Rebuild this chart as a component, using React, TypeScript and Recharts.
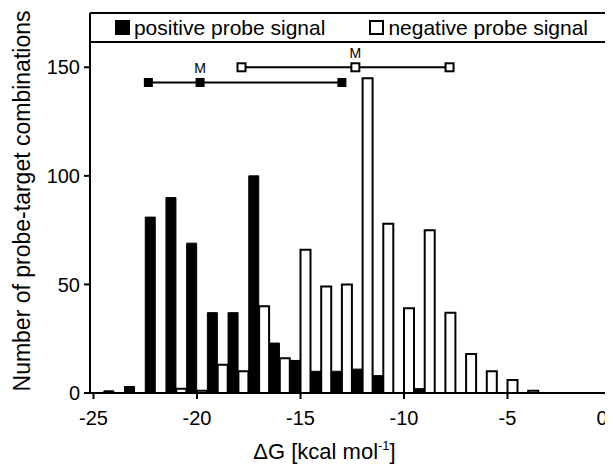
import React from 'react';
import { ComposedChart, Bar, XAxis, YAxis, Scatter, Legend, LabelList } from 'recharts';

const FONT = '"Liberation Sans", Arial, Helvetica, sans-serif';

// Histogram bins (kcal/mol), each bin centred on an integer value
const binCenters = [-24, -23, -22, -21, -20, -19, -18, -17, -16, -15, -14, -13, -12, -11, -10, -9, -8, -7, -6, -5, -4];
const positiveCounts = [1, 3, 81, 90, 69, 37, 37, 100, 23, 15, 10, 10, 11, 8, 0, 2, 0, 0, 0, 0, 0];
const negativeCounts = [0, 0, 0, 2, 1, 13, 10, 40, 16, 66, 49, 50, 145, 78, 39, 75, 37, 18, 10, 6, 1];

// Range markers (lower, median, upper) shown above the histogram
const positiveRangeX = [-22.35, -19.85, -13.0];
const positiveRangeY = 143;
const negativeRangeX = [-17.85, -12.35, -7.8];
const negativeRangeY = 150;
const rangeLabels = ['', 'M', ''];

const seriesNames = ['positive probe signal', 'negative probe signal'];
const xTicks = [-25, -20, -15, -10, -5, 0];
const yTicks = [0, 50, 100, 150];
const xDomain = [-25, 0];
const yDomain = [0, 175];

// Half-unit bands: filled bar in [n-0.5, n], open bar in [n, n+0.5]
const bandData = Array.from({ length: 50 }, (_, k) => {
  const start = xDomain[0] + k * 0.5;
  const posIdx = binCenters.indexOf(start + 0.5);
  const negIdx = binCenters.indexOf(start);
  const pos = posIdx >= 0 && positiveCounts[posIdx] > 0 ? positiveCounts[posIdx] : null;
  const neg = negIdx >= 0 && negativeCounts[negIdx] > 0 ? negativeCounts[negIdx] : null;
  return { band: start.toFixed(1), positive: pos, negative: neg };
});

const positiveRange = positiveRangeX.map((x, i) => ({ x, y: positiveRangeY, label: rangeLabels[i] }));
const negativeRange = negativeRangeX.map((x, i) => ({ x, y: negativeRangeY, label: rangeLabels[i] }));

const FilledSquare = (props: any) => {
  const { cx, cy } = props;
  return <rect x={cx - 4.5} y={cy - 4.5} width={9} height={9} fill="#000" />;
};
const OpenSquare = (props: any) => {
  const { cx, cy } = props;
  return <rect x={cx - 4} y={cy - 4} width={8} height={8} fill="#fff" stroke="#000" strokeWidth={2} />;
};

const renderLegend = (props: any) => {
  const entries = (props.payload || [])
    .filter((e: any) => e.type !== 'none' && seriesNames.includes(e.value))
    .sort((a: any, b: any) => seriesNames.indexOf(a.value) - seriesNames.indexOf(b.value));
  return (
    <div
      style={{
        boxSizing: 'border-box',
        height: 31,
        borderTop: '2px solid #000',
        borderBottom: '2px solid #000',
        display: 'flex',
        justifyContent: 'center',
        alignItems: 'center',
        gap: 44,
        fontFamily: FONT,
        fontSize: 21,
        color: '#000',
        whiteSpace: 'nowrap',
      }}
    >
      {entries.map((e: any) => (
        <div key={e.value} style={{ display: 'flex', alignItems: 'center' }}>
          <span
            style={{
              display: 'inline-block',
              boxSizing: 'border-box',
              width: 15,
              height: 15,
              background: e.color,
              border: '2px solid #000',
              marginRight: 4,
            }}
          />
          <span>{e.value}</span>
        </div>
      ))}
    </div>
  );
};

const XTick = (props: any) => {
  const { x, y, payload } = props;
  const lx = Math.min(x, 602);
  return (
    <text x={lx} y={y} dy="0.71em" textAnchor="middle" fontFamily={FONT} fontSize={20} fill="#000">
      {payload.value}
    </text>
  );
};

const XTitle = (props: any) => {
  const vb = props.viewBox || { x: 0, y: 0, width: 0, height: 0 };
  const cx = vb.x + vb.width / 2 - 26;
  const y = vb.y + vb.height - 7;
  return (
    <text x={cx} y={y} textAnchor="middle" fontFamily={FONT} fontSize={22} fill="#000">
      ΔG [kcal mol
      <tspan fontSize={13} dy={-9}>-1</tspan>
      <tspan dy={9}>]</tspan>
    </text>
  );
};

const YTitle = (props: any) => {
  const vb = props.viewBox || { x: 0, y: 0, width: 0, height: 0 };
  const x = vb.x + 22;
  const y = vb.y + vb.height / 2 - 2;
  return (
    <text
      x={x}
      y={y}
      dy="0.36em"
      textAnchor="middle"
      transform={`rotate(-90, ${x}, ${y})`}
      fontFamily={FONT}
      fontSize={23}
      fill="#000"
    >
      Number of probe-target combinations
    </text>
  );
};

export default function App() {
  return (
    <div style={{ marginLeft: -8, marginTop: -8, width: 613, height: 466 }}>
      <ComposedChart
        width={613}
        height={466}
        data={bandData}
        margin={{ top: 13, right: 2, bottom: 0, left: 0 }}
        barCategoryGap={0}
        barGap={0}
        style={{ overflow: 'visible' }}
      >
        <XAxis
          xAxisId="band"
          dataKey="band"
          type="category"
          orientation="top"
          hide
          height={0}
          padding={{ left: 3.5, right: 0 }}
        />
        <XAxis
          xAxisId="num"
          dataKey="x"
          type="number"
          domain={xDomain}
          ticks={xTicks}
          interval={0}
          allowDataOverflow
          padding={{ left: 3.5, right: 0 }}
          height={73}
          axisLine={{ stroke: '#000', strokeWidth: 2 }}
          tickLine={{ stroke: '#000', strokeWidth: 2 }}
          tickSize={6}
          tickMargin={12}
          tick={<XTick />}
          label={<XTitle />}
        />
        <YAxis
          type="number"
          domain={yDomain}
          ticks={yTicks}
          interval={0}
          allowDataOverflow
          width={90}
          axisLine={{ stroke: '#000', strokeWidth: 2 }}
          tickLine={{ stroke: '#000', strokeWidth: 2 }}
          tickSize={6}
          tickMargin={4}
          tick={{ fill: '#000', fontSize: 20, fontFamily: FONT }}
          label={<YTitle />}
        />
        <Legend
          layout="horizontal"
          verticalAlign="middle"
          align="center"
          width={523}
          wrapperStyle={{ left: 90, top: 12 }}
          content={renderLegend}
        />
        <Bar
          xAxisId="band"
          dataKey="positive"
          name={seriesNames[0]}
          stackId="s"
          fill="#000"
          stroke="#000"
          strokeWidth={1}
          isAnimationActive={false}
        />
        <Bar
          xAxisId="band"
          dataKey="negative"
          name={seriesNames[1]}
          stackId="s"
          fill="#fff"
          stroke="#000"
          strokeWidth={2}
          isAnimationActive={false}
        />
        <Scatter
          xAxisId="num"
          data={positiveRange}
          dataKey="y"
          fill="#000"
          line={{ stroke: '#000', strokeWidth: 2 }}
          shape={FilledSquare}
          legendType="none"
          isAnimationActive={false}
        >
          <LabelList dataKey="label" position="top" offset={5} fill="#000" fontSize={14} fontFamily={FONT} />
        </Scatter>
        <Scatter
          xAxisId="num"
          data={negativeRange}
          dataKey="y"
          fill="#fff"
          line={{ stroke: '#000', strokeWidth: 2 }}
          shape={OpenSquare}
          legendType="none"
          isAnimationActive={false}
        >
          <LabelList dataKey="label" position="top" offset={5} fill="#000" fontSize={14} fontFamily={FONT} />
        </Scatter>
      </ComposedChart>
    </div>
  );
}
